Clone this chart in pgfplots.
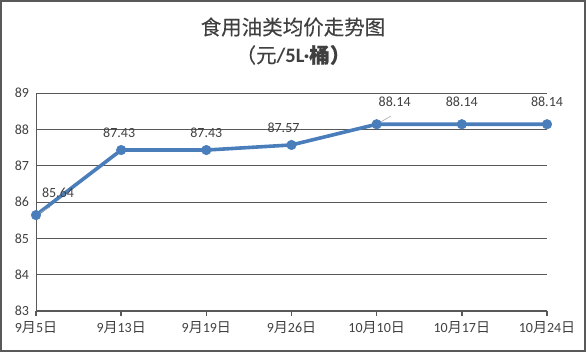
\documentclass[border=0pt]{standalone}
\usepackage{fontspec}
\setmainfont{Carlito}
\newfontfamily\cjk{Noto Sans CJK SC}
\newfontfamily\cjkb[FakeBold=0.35]{Noto Sans CJK SC}
\usepackage{pgfplots}
\pgfplotsset{compat=1.18}
\definecolor{lineblue}{HTML}{4A7EBB}
\definecolor{txt}{HTML}{404040}
\definecolor{gridc}{HTML}{595959}
\definecolor{framec}{HTML}{595959}
\newcommand{\md}[2]{#1{\cjk 月}#2{\cjk 日}}
\begin{document}
\begin{tikzpicture}
\begin{axis}[
  name=ax,
  scale only axis,
  width=511pt, height=218pt,
  xmin=0, xmax=6, ymin=83, ymax=89,
  xtick={0,1,2,3,4,5,6},
  xticklabels={\md{9}{5},\md{9}{13},\md{9}{19},\md{9}{26},\md{10}{10},\md{10}{17},\md{10}{24}},
  ytick={83,84,85,86,87,88,89},
  axis x line=bottom, axis y line=left,
  axis line style={-, draw=gridc},
  x axis line style={line width=1.6pt},
  y axis line style={line width=0.8pt},
  ymajorgrids,
  grid style={draw=gridc, line width=0.8pt},
  xtick align=outside,
  x tick style={draw=gridc, line width=1.6pt},
  major tick length=5pt,
  y tick style={draw=none},
  tick label style={font=\fontsize{14}{16}\selectfont, text=txt},
  /pgf/number format/assume math mode=true,
  xticklabel style={yshift=-2pt},
  yticklabel style={xshift=-1pt},
  clip=false,
]
\addplot[lineblue, line width=3.6pt, mark=*, mark size=4.8pt, mark options={fill=lineblue, draw=lineblue, line width=0.5pt}]
coordinates {(0,85.64) (1,87.43) (2,87.43) (3,87.57) (4,88.14) (5,88.14) (6,88.14)};
\draw[gray!70, line width=0.6pt] (axis cs:0,85.64) -- ++(14pt,8pt);
\draw[gray!70, line width=0.6pt] (axis cs:4,88.14) -- ++(14pt,8pt);
\begin{scope}[every node/.style={font=\fontsize{14}{16}\selectfont, text=txt, inner sep=0pt}]
\node at ([xshift=22pt,yshift=22pt]axis cs:0,85.64) {85.64};
\node at ([xshift=-2pt,yshift=17pt]axis cs:1,87.43) {87.43};
\node at ([xshift=0pt,yshift=17pt]axis cs:2,87.43) {87.43};
\node at ([xshift=-8pt,yshift=17pt]axis cs:3,87.57) {87.57};
\node at ([xshift=18pt,yshift=22pt]axis cs:4,88.14) {88.14};
\node at ([xshift=0pt,yshift=22pt]axis cs:5,88.14) {88.14};
\node at ([xshift=0pt,yshift=22pt]axis cs:6,88.14) {88.14};
\end{scope}
\end{axis}
\useasboundingbox ([xshift=-36pt,yshift=-41pt]ax.south west) rectangle ([xshift=39pt,yshift=93pt]ax.north east);
\draw[framec, line width=2pt] ([xshift=-35pt,yshift=-40pt]ax.south west) rectangle ([xshift=38pt,yshift=92pt]ax.north east);
\node[text=txt, font=\cjkb\fontsize{20.5}{22}\selectfont, inner sep=0pt] at ([xshift=1.5pt,yshift=66pt]ax.north) {食用油类均价走势图};
\node[text=txt, font=\fontsize{20.5}{22}\selectfont, inner sep=0pt] at ([xshift=1.5pt,yshift=38pt]ax.north) {{\cjkb （元}\bfseries/5L·{\cjkb 桶）}};
\end{tikzpicture}
\end{document}
